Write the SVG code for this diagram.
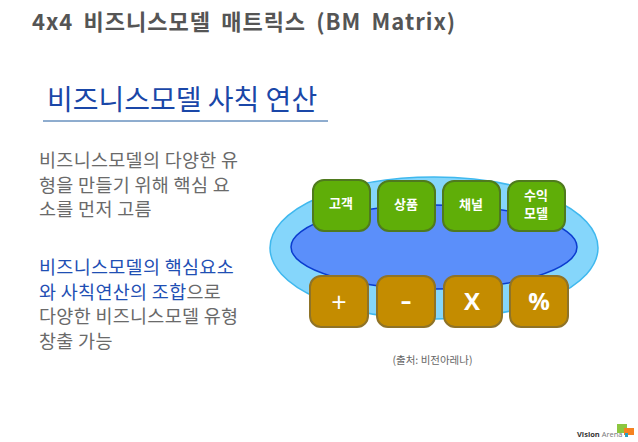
<svg xmlns="http://www.w3.org/2000/svg" width="638" height="442" viewBox="0 0 638 442">
<style>
text{font-family:"Noto Sans CJK KR","Open Sans",sans-serif}
.lat{font-family:"Open Sans","Noto Sans CJK KR",sans-serif}
.body{font-size:18.5px;fill:#6a6a6a;letter-spacing:.3px}
.blue{fill:#1f4fb4}
.g{fill:#5fae08;stroke:#4f7a1e;stroke-width:2}
.b{fill:#c48c00;stroke:#8f7327;stroke-width:2}
.gt{font-size:13px;font-weight:700;fill:#fff;text-anchor:middle}
.bt{font-size:24px;font-weight:700;fill:#fff;text-anchor:middle}
</style>
<rect width="638" height="442" fill="#fff"/>
<text x="32" y="30" font-size="22" font-weight="700" fill="#555" letter-spacing="1" word-spacing="4.200">4x4 비즈니스모델 매트릭스 (BM Matrix)</text>
<text x="47" y="110" font-size="28" fill="#1a47a8">비즈니스모델 사칙 연산</text>
<line x1="43" y1="121" x2="328" y2="121" stroke="#1f5a9e" stroke-width="1"/>
<g id="text-a">
<text x="39" y="167" class="body">비즈니스모델의 다양한 유</text>
<text x="39" y="192" class="body">형을 만들기 위해 핵심 요</text>
<text x="39" y="216" class="body">소를 먼저 고름</text>
</g>
<g id="text-b">
<text x="39" y="274" class="body blue">비즈니스모델의 핵심요소</text>
<text x="39" y="299" class="body"><tspan class="blue">와 사칙연산의 조합</tspan>으로</text>
<text x="39" y="323" class="body">다양한 비즈니스모델 유형</text>
<text x="39" y="348" class="body">창출 가능</text>
</g>
<g id="ellipse-outer"><ellipse cx="434" cy="248" rx="164" ry="71" fill="#85d6fb" stroke="#3fb8ee" stroke-width="1.5"/></g>
<g id="ellipse-inner"><ellipse cx="434" cy="247" rx="143" ry="42" fill="#5b8ffa" stroke="#0b3ccf" stroke-width="1.5"/></g>
<g id="node-customer"><rect class="g" x="313" y="180" width="57" height="51" rx="11"/><text class="gt" x="341" y="208">고객</text></g>
<g id="node-product"><rect class="g" x="378" y="181" width="57" height="50" rx="11"/><text class="gt" x="406" y="209">상품</text></g>
<g id="node-channel"><rect class="g" x="443" y="181" width="57" height="50" rx="11"/><text class="gt" x="471" y="209">채널</text></g>
<g id="node-revenue"><rect class="g" x="508" y="181" width="57" height="50" rx="11"/><text class="gt" x="536" y="200">수익</text><text class="gt" x="536" y="218">모델</text></g>
<g id="node-plus"><rect class="b" x="310" y="276" width="58" height="51" rx="11"/><text class="lat" font-size="27" fill="#fff" text-anchor="middle" x="339" y="312">+</text></g>
<g id="node-minus"><rect class="b" x="377" y="276" width="58" height="51" rx="11"/><text class="lat" font-size="36" fill="#fff" text-anchor="middle" x="406" y="313">-</text></g>
<g id="node-times"><rect class="b" x="444" y="276" width="58" height="51" rx="11"/><text class="bt lat" x="472" y="310">X</text></g>
<g id="node-percent"><rect class="b" x="510" y="276" width="58" height="51" rx="11"/><text class="bt lat" x="539" y="310">%</text></g>
<text x="432.500" y="364" font-size="10.500" fill="#666" text-anchor="middle">(출처: 비전아레나)</text>
<g id="logo">
<rect x="617" y="424" width="10" height="9" fill="#8cc63f"/>
<rect x="624" y="428" width="10" height="7" fill="#f58220"/>
<rect x="625" y="433" width="3" height="4" fill="#2a9fc0"/>
<text x="577" y="437" font-size="7.500" font-weight="700" fill="#333" class="lat">Vision <tspan font-weight="400" fill="#777">Arena</tspan></text>
</g>
</svg>
